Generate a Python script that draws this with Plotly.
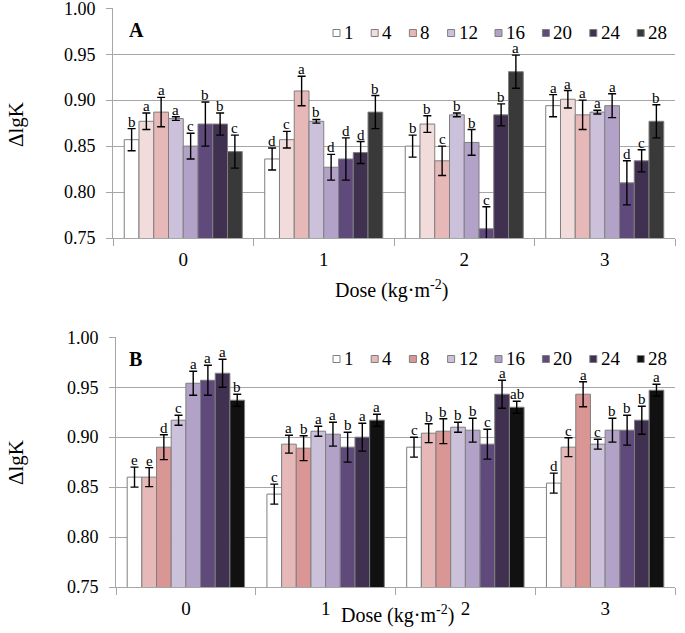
import plotly.graph_objects as go

doses = ["0", "1", "2", "3"]
days = ["1", "4", "8", "12", "16", "20", "24", "28"]

# Panel A values: rows = day series, columns = dose 0..3
a_vals = {
    "1":  [0.857, 0.836, 0.850, 0.894],
    "4":  [0.877, 0.857, 0.874, 0.901],
    "8":  [0.887, 0.910, 0.834, 0.884],
    "12": [0.880, 0.877, 0.884, 0.887],
    "16": [0.850, 0.827, 0.854, 0.894],
    "20": [0.874, 0.836, 0.760, 0.810],
    "24": [0.874, 0.843, 0.884, 0.834],
    "28": [0.844, 0.887, 0.931, 0.877],
}
a_err = {
    "1":  [0.012, 0.012, 0.012, 0.012],
    "4":  [0.009, 0.009, 0.009, 0.0095],
    "8":  [0.016, 0.016, 0.016, 0.016],
    "12": [0.002, 0.002, 0.002, 0.002],
    "16": [0.014, 0.014, 0.014, 0.013],
    "20": [0.024, 0.023, 0.024, 0.024],
    "24": [0.012, 0.012, 0.012, 0.012],
    "28": [0.018, 0.018, 0.018, 0.018],
}
a_letters = {
    "1":  ["b", "d", "b", "a"],
    "4":  ["a", "c", "b", "a"],
    "8":  ["a", "a", "c", "a"],
    "12": ["a", "b", "b", "a"],
    "16": ["c", "d", "b", "a"],
    "20": ["b", "d", "c", "d"],
    "24": ["b", "d", "b", "c"],
    "28": ["c", "b", "a", "b"],
}

# Panel B values
b_vals = {
    "1":  [0.860, 0.843, 0.890, 0.854],
    "4":  [0.860, 0.893, 0.904, 0.890],
    "8":  [0.890, 0.889, 0.906, 0.943],
    "12": [0.917, 0.906, 0.910, 0.893],
    "16": [0.954, 0.903, 0.907, 0.907],
    "20": [0.957, 0.890, 0.893, 0.907],
    "24": [0.964, 0.900, 0.943, 0.917],
    "28": [0.937, 0.917, 0.930, 0.947],
}
b_err = {
    "1":  [0.010, 0.010, 0.010, 0.010],
    "4":  [0.0095, 0.009, 0.0095, 0.0095],
    "8":  [0.0125, 0.0125, 0.0125, 0.0125],
    "12": [0.005, 0.005, 0.005, 0.005],
    "16": [0.012, 0.012, 0.012, 0.012],
    "20": [0.015, 0.015, 0.015, 0.015],
    "24": [0.014, 0.014, 0.014, 0.014],
    "28": [0.006, 0.006, 0.006, 0.006],
}
b_letters = {
    "1":  ["e", "c", "c", "d"],
    "4":  ["e", "a", "b", "c"],
    "8":  ["d", "b", "b", "a"],
    "12": ["c", "a", "b", "c"],
    "16": ["a", "a", "b", "b"],
    "20": ["a", "b", "c", "b"],
    "24": ["a", "a", "a", "b"],
    "28": ["b", "a", "ab", "a"],
}

a_colors = ["#FFFFFF", "#F2DCDB", "#E6B9B8", "#CCC1DA", "#B3A2C7", "#604A7B", "#403151", "#393939"]
b_colors = ["#FFFFFF", "#E6B9B8", "#D99694", "#CCC1DA", "#B3A2C7", "#604A7B", "#403151", "#111111"]

FONT = "Liberation Serif"
GRID = "#A6A6A6"
EDGE = "#7F7F7F"
BARGAP = 0.16

W, H = 685, 633
def px(x):
    return x / W
def py(y):
    return 1 - y / H

fig = go.Figure()
annotations = []
shapes = []
xpos = [0, 1, 2, 3]
n = len(days)
gw = 1 - BARGAP

def add_panel(vals, errs, letters, colors, xa, ya, legend_y):
    for i, d in enumerate(days):
        fig.add_trace(go.Bar(
            x=xpos, y=vals[d], name=d, showlegend=False,
            marker=dict(color=colors[i], line=dict(color=EDGE, width=1)),
            error_y=dict(type="data", array=errs[d], color="black", thickness=1.4, width=4),
            xaxis=xa, yaxis=ya,
        ))
        off = -gw / 2 + (i + 0.5) * gw / n
        for j in range(4):
            annotations.append(dict(
                x=xpos[j] + off, y=vals[d][j] + errs[d][j],
                xref=xa, yref=ya, text=letters[d][j], showarrow=False,
                xanchor="center", yanchor="bottom", yshift=-3,
                font=dict(family=FONT, size=15, color="black"),
            ))
    # legend (swatch + label per series)
    x = 333
    for i, d in enumerate(days):
        shapes.append(dict(type="rect", xref="paper", yref="paper",
                           x0=px(x), x1=px(x + 7), y0=py(legend_y + 3.5), y1=py(legend_y - 3.5),
                           fillcolor=colors[i], line=dict(color=EDGE, width=1)))
        annotations.append(dict(x=px(x + 9), y=py(legend_y - 0.5), xref="paper", yref="paper",
                                text=d, showarrow=False, xanchor="left", yanchor="middle",
                                font=dict(family=FONT, size=19, color="black")))
        x += 29 + 9.2 * len(d)

add_panel(a_vals, a_err, a_letters, a_colors, "x", "y", 33)
add_panel(b_vals, b_err, b_letters, b_colors, "x2", "y2", 359)

xaxis_common = dict(
    range=[-0.5, 3.5], tickvals=xpos, ticktext=doses, ticks="", ticklen=0,
    showline=True, linecolor=GRID, linewidth=1, showgrid=False, zeroline=False,
    minor=dict(tickvals=[-0.5, 0.5, 1.5, 2.5, 3.5], ticks="outside", ticklen=7, tickcolor=GRID, showgrid=False),
    tickfont=dict(family=FONT, size=19, color="black"),
    ticklabelstandoff=4, ticklabeloverflow="allow",
    automargin=False, fixedrange=True,
)
yaxis_common = dict(
    range=[0.75, 1.0003], tickvals=[0.75, 0.80, 0.85, 0.90, 0.95, 1.00],
    ticktext=["0.75", "0.80", "0.85", "0.90", "0.95", "1.00"],
    ticks="outside", ticklen=6, tickcolor=GRID,
    showline=True, linecolor=GRID, linewidth=1,
    showgrid=True, gridcolor=GRID, gridwidth=1, zeroline=False,
    tickfont=dict(family=FONT, size=18, color="black"),
    ticklabelstandoff=7, ticklabeloverflow="allow",
    automargin=False, fixedrange=True,
)

fig.update_layout(
    width=W, height=H,
    margin=dict(l=0, r=0, t=0, b=0),
    paper_bgcolor="white", plot_bgcolor="white",
    barmode="group", bargap=BARGAP, bargroupgap=0,
    showlegend=False,
    xaxis=dict(domain=[px(113), px(675)], anchor="y", **xaxis_common),
    yaxis=dict(domain=[py(238), py(8)], anchor="x", **yaxis_common),
    xaxis2=dict(domain=[px(116), px(675)], anchor="y2", **xaxis_common),
    yaxis2=dict(domain=[py(587), py(337)], anchor="x2", **yaxis_common),
    font=dict(family=FONT, color="black"),
)

def label(x, y, text, size, angle=0):
    return dict(x=px(x), y=py(y), xref="paper", yref="paper", text=text, showarrow=False,
                xanchor="center", yanchor="middle", textangle=angle,
                font=dict(family=FONT, size=size, color="black"))

annotations += [
    label(136, 30, "<b>A</b>", 20),
    label(135, 359, "<b>B</b>", 20),
    label(392, 290, "Dose (kg·m<sup>-2</sup>)", 20),
    label(397, 614, "Dose (kg·m<sup>-2</sup>)", 20),
    label(16, 124, "ΔlgK", 21, -90),
    label(16, 462, "ΔlgK", 21, -90),
]
fig.update_layout(annotations=annotations, shapes=shapes)

fig.write_html("out.html", config={"displayModeBar": False},
               post_script="document.body.style.margin='0px';")
